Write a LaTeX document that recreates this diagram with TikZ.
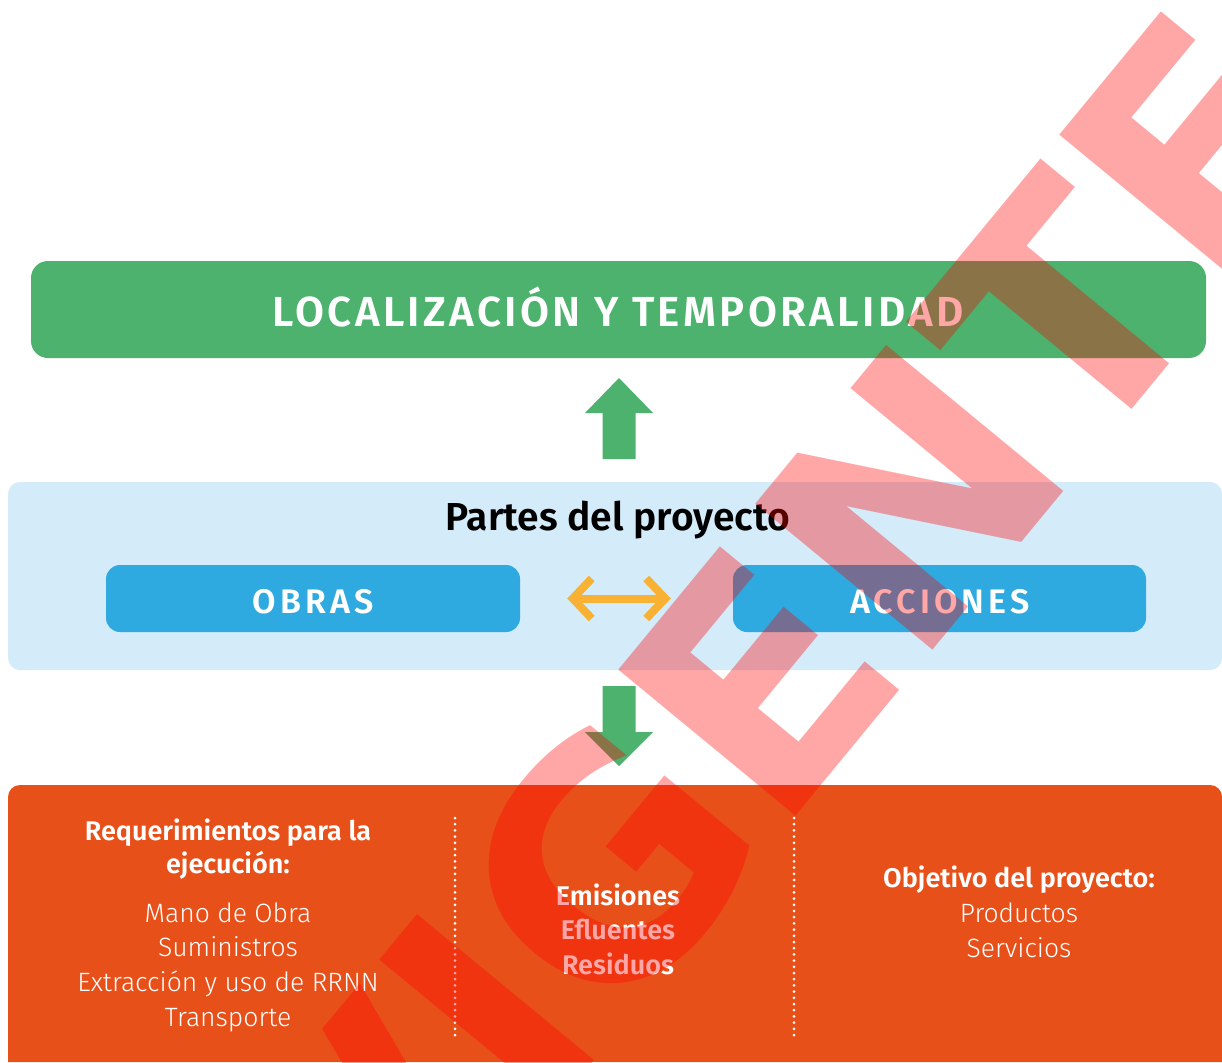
\documentclass[tikz,border=0pt]{standalone}
\usepackage{fontspec}
\setmainfont{Fira Sans}
\newfontfamily\lightfont{Fira Sans Light}
\newfontfamily\sbfont{Fira Sans SemiBold}
\newfontfamily\titlefont[LetterSpace=8]{Fira Sans SemiBold}
\newfontfamily\spacedfont[LetterSpace=12]{Fira Sans SemiBold}
\newfontfamily\wmfont{DejaVu Sans}
\usetikzlibrary{arrows.meta,calc}
\definecolor{gr}{HTML}{4CB26D}
\definecolor{lb}{HTML}{D4EBFA}
\definecolor{bb}{HTML}{2EAAE1}
\definecolor{og}{HTML}{E8501A}
\definecolor{yl}{HTML}{F8B133}
\tikzset{
  panel/.style={draw=none, inner sep=0pt},
  boxtxt/.style={anchor=base, text=white, font=\spacedfont\fontsize{34}{40}\selectfont},
  boldtxt/.style={anchor=base, text=white, font=\sbfont\fontsize{27}{30}\selectfont},
  regtxt/.style={anchor=base, text=white, font=\lightfont\fontsize{26.5}{30}\selectfont},
}
\begin{document}
\begin{tikzpicture}[x=1pt,y=-1pt]
\useasboundingbox (0,0) rectangle (1222,1062);
\fill[white] (0,0) rectangle (1222,1062);
% green top box
\node[panel, fill=gr, rounded corners=17, minimum width=1175, minimum height=97] (loc) at (618.5,309.5) {};
\node[anchor=base, text=white, font=\titlefont\fontsize{42}{48}\selectfont] (loct) at (618,326) {LOCALIZACIÓN Y TEMPORALIDAD};
% light blue panel
\node[panel, fill=lb, rounded corners=12, minimum width=1214, minimum height=188] (parts) at (615,576) {};
\node[anchor=base, text=black, font=\sbfont\fontsize{39}{44}\selectfont] (partt) at (618,530) {Partes del proyecto};
\node[panel, fill=bb, rounded corners=14, minimum width=414, minimum height=67] (obras) at (313,598.5) {};
\node[boxtxt] (obrast) at (313,613) {OBRAS};
\node[panel, fill=bb, rounded corners=14, minimum width=413, minimum height=67] (acc) at (939.5,598.5) {};
\node[boxtxt] (acct) at (940,613) {ACCIONES};
% orange panel
\fill[og] (8,1062) {[rounded corners=12] -- (8,785) -- (1222,785)} -- (1222,1062) -- cycle;
% green arrows
\coordinate (upTip) at (619,378);
\fill[gr] (upTip) -- ++(34,35) -- ++(-17.5,0) -- ++(0,46) -- ++(-33,0) -- ++(0,-46) -- ++(-17.5,0) -- cycle;
\coordinate (dnTip) at (619,766);
\fill[gr] (dnTip) -- ++(34,-34) -- ++(-17.5,0) -- ++(0,-46) -- ++(-33,0) -- ++(0,46) -- ++(-17.5,0) -- cycle;
% double arrow
\draw[yl, line width=8pt, {Straight Barb[length=19pt,width=40pt]}-{Straight Barb[length=19pt,width=40pt]}, shorten <=47pt, shorten >=62pt] (obras.east) -- (acc.west);
% dotted separators
\draw[white, line width=3pt, line cap=round, dash pattern=on 0pt off 6.2pt] (455,818) -- (455,1038);
\draw[white, line width=3pt, line cap=round, dash pattern=on 0pt off 6.2pt] (794,818) -- (794,1038);
% left column
\node[boldtxt] (r1) at (228,840) {Requerimientos para la};
\node[boldtxt] (r2) at (228,873) {ejecución:};
\node[regtxt] (r3) at (228,922) {Mano de Obra};
\node[regtxt] (r4) at (228,956) {Suministros};
\node[regtxt] (r5) at (228,991) {Extracción y uso de RRNN};
\node[regtxt] (r6) at (228,1026) {Transporte};
% middle column
\node[boldtxt] (m1) at (618,905) {Emisiones};
\node[boldtxt] (m2) at (618,939) {Efluentes};
\node[boldtxt] (m3) at (618,974) {Residuos};
% right column
\node[boldtxt] (o1) at (1019,887) {Objetivo del proyecto:};
\node[regtxt] (o2) at (1019,922) {Productos};
\node[regtxt] (o3) at (1019,957) {Servicios};
% watermark
\node[rotate=50.5, text=red, text opacity=0.35, inner sep=0pt, font=\wmfont\bfseries\fontsize{315}{315}\selectfont] (wm) at (781,654) {VIGENTE};
\end{tikzpicture}
\end{document}
